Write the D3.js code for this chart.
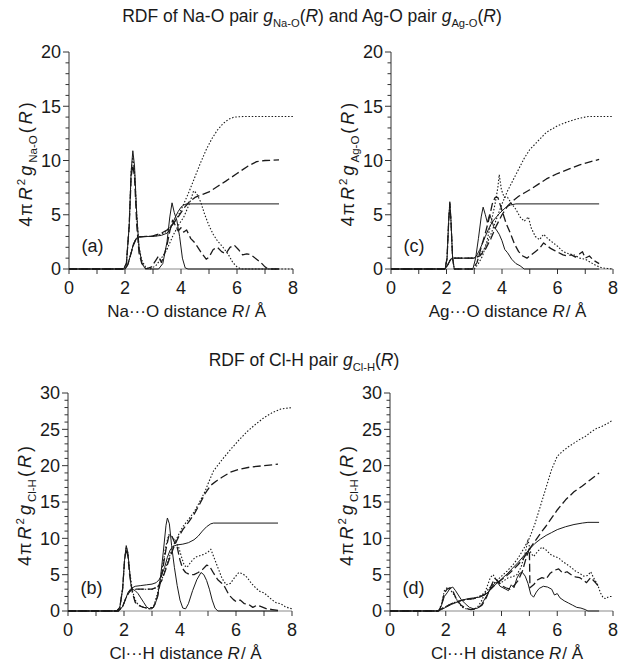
<!DOCTYPE html>
<html>
<head>
<meta charset="utf-8">
<script src="https://cdn.jsdelivr.net/npm/d3@7"></script>
<style>
  body { margin: 0; background: #fff; }
  text { font-family: "Liberation Sans", Arial, sans-serif; fill: #1a1a1a; }
</style>
</head>
<body>
<svg id="chart" width="619" height="662"></svg>
<script>
"use strict";

// ---- data (R in Angstrom, 4piR^2 g(R)) ----
var xTickValues = [0, 2, 4, 6, 8];

// (a) Na-O
var naRdfSolid = [[0,0],[1.95,0],[2.05,0.5],[2.15,4],[2.22,9],[2.28,10.9],[2.34,9.5],[2.42,5],[2.5,2],[2.6,0.6],[2.7,0.1],[2.8,0],[3.2,0],[3.35,0.5],[3.5,2.5],[3.6,4.8],[3.68,6.1],[3.76,5.2],[3.85,4.5],[3.95,3],[4.05,1],[4.15,0.1],[4.25,0],[7.5,0]];
var naRdfDash = [[0,0],[1.95,0],[2.05,0.5],[2.15,4],[2.22,8.5],[2.28,9.6],[2.34,8.5],[2.42,4],[2.5,1.5],[2.6,0.5],[2.75,0],[2.95,0.2],[3.1,0.8],[3.2,1.2],[3.3,0.6],[3.4,1.3],[3.5,2.2],[3.6,3.5],[3.7,4.5],[3.8,4],[3.9,3.5],[4.0,3.8],[4.1,3.4],[4.2,3.6],[4.35,2.8],[4.5,2.4],[4.7,1.6],[4.9,0.9],[5.0,1.1],[5.15,1.8],[5.3,2.0],[5.45,1.6],[5.6,1.4],[5.75,2.0],[5.9,2.2],[6.05,1.8],[6.2,1.3],[6.35,1.4],[6.5,1.3],[6.7,0.9],[6.85,0.6],[7.0,0.2],[7.1,0],[7.5,0]];
var naRdfDot = [[0,0],[1.95,0],[2.05,0.5],[2.15,4],[2.22,9],[2.28,10.3],[2.34,9],[2.42,5],[2.5,2],[2.6,0.8],[2.75,0.1],[2.9,0],[3.1,0.3],[3.3,1.0],[3.5,1.8],[3.7,3],[3.9,4],[4.1,4.8],[4.3,6],[4.45,7.2],[4.55,7],[4.7,6.2],[4.85,5],[5.0,4],[5.15,3.2],[5.3,2.6],[5.5,2],[5.7,1.3],[5.85,0.6],[6.0,0.2],[6.15,0],[8,0]];
var naCumSolid = [[0,0],[2.0,0],[2.1,0.4],[2.2,1.3],[2.3,2.3],[2.4,2.8],[2.5,2.95],[2.7,3.0],[3.0,3.0],[3.3,3.1],[3.5,3.3],[3.6,3.6],[3.7,4.2],[3.8,4.8],[3.9,5.3],[4.0,5.7],[4.1,5.9],[4.2,6],[7.5,6]];
var naCumDash = [[0,0],[2.0,0],[2.1,0.4],[2.2,1.3],[2.3,2.2],[2.4,2.8],[2.5,2.95],[2.8,3.0],[3.0,3.05],[3.3,3.3],[3.5,3.6],[3.7,4.1],[3.9,4.8],[4.1,5.6],[4.3,6.2],[4.5,6.6],[4.8,6.9],[5.0,7.1],[5.3,7.6],[5.6,8.1],[6.0,8.8],[6.4,9.5],[6.7,9.9],[7.0,10.0],[7.5,10.05]];
var naCumDot = [[0,0],[2.0,0],[2.1,0.4],[2.2,1.3],[2.3,2.3],[2.4,2.8],[2.5,3.0],[2.8,3.0],[3.1,3.05],[3.3,3.2],[3.5,3.5],[3.7,4.1],[3.9,4.9],[4.1,6.0],[4.3,7.2],[4.5,8.5],[4.7,9.8],[4.9,11.0],[5.1,12.0],[5.3,12.8],[5.5,13.4],[5.7,13.8],[5.9,14.0],[6.2,14.05],[8,14.05]];

// (c) Ag-O
var agRdfSolid = [[0,0],[1.95,0],[2.02,1],[2.08,4.5],[2.12,6.2],[2.16,4.5],[2.22,1],[2.28,0],[2.95,0],[3.05,1],[3.15,2.8],[3.25,4.8],[3.32,5.7],[3.4,5],[3.47,4.3],[3.55,5],[3.62,4.6],[3.7,3.9],[3.8,3.6],[3.9,3.2],[4.0,2.6],[4.1,1.8],[4.2,1.5],[4.35,0.9],[4.5,0.5],[4.65,0.3],[4.8,0],[7.5,0]];
var agRdfDash = [[0,0],[1.95,0],[2.02,1],[2.08,4.5],[2.12,6.0],[2.16,4.5],[2.22,1],[2.28,0],[2.95,0],[3.1,0.6],[3.25,2.0],[3.4,3.3],[3.55,4.8],[3.65,6.0],[3.75,6.6],[3.85,6.6],[3.95,5.8],[4.05,5],[4.15,4.2],[4.3,3.3],[4.45,2.3],[4.6,1.6],[4.75,1.2],[4.9,1.0],[5.05,1.3],[5.2,1.6],[5.35,1.9],[5.5,2.4],[5.6,2.2],[5.75,1.9],[5.9,1.7],[6.05,1.5],[6.2,1.3],[6.35,1.2],[6.5,1.3],[6.65,1.1],[6.8,1.4],[6.9,1.6],[7.0,1.0],[7.15,1.2],[7.3,0.8],[7.5,0.5]];
var agRdfDot = [[0,0],[1.95,0],[2.02,1],[2.08,4.5],[2.12,6.0],[2.16,4.5],[2.22,1],[2.28,0],[3.0,0],[3.15,0.5],[3.3,1.2],[3.45,2.5],[3.6,4.2],[3.75,6.0],[3.85,7.5],[3.9,8.7],[3.98,7.3],[4.08,6.6],[4.2,6.6],[4.35,6.0],[4.5,5.5],[4.65,4.8],[4.8,4.4],[4.95,4.8],[5.05,3.8],[5.2,3.0],[5.35,2.7],[5.5,3.2],[5.65,2.8],[5.8,2.5],[6.0,2.1],[6.2,1.6],[6.4,1.4],[6.6,1.3],[6.8,1.0],[7.0,0.9],[7.2,0.6],[7.4,0.3],[7.6,0.1],[7.8,0.05],[8.0,0]];
var agCumSolid = [[0,0],[1.95,0],[2.05,0.4],[2.15,0.9],[2.25,1.0],[3.0,1.0],[3.1,1.3],[3.2,1.8],[3.3,2.4],[3.4,3.0],[3.5,3.6],[3.6,4.1],[3.7,4.5],[3.8,4.8],[3.9,5.1],[4.0,5.35],[4.15,5.7],[4.3,5.9],[4.5,6.0],[7.5,6.0]];
var agCumDash = [[0,0],[1.95,0],[2.05,0.4],[2.15,0.9],[2.25,1.0],[3.0,1.0],[3.2,1.2],[3.4,1.8],[3.6,2.8],[3.8,4.0],[4.0,5.0],[4.2,5.8],[4.4,6.3],[4.6,6.7],[4.8,7.0],[5.0,7.3],[5.3,7.8],[5.6,8.3],[6.0,8.8],[6.4,9.2],[6.8,9.6],[7.2,9.9],[7.5,10.1]];
var agCumDot = [[0,0],[1.95,0],[2.05,0.4],[2.15,0.9],[2.25,1.0],[3.0,1.0],[3.2,1.3],[3.4,2.0],[3.6,3.2],[3.8,4.6],[4.0,6.0],[4.2,7.2],[4.4,8.2],[4.6,9.2],[4.8,10.2],[5.0,11.0],[5.3,11.8],[5.6,12.6],[6.0,13.2],[6.4,13.6],[6.8,13.9],[7.1,14.05],[8.0,14.05]];

// (b) Cl-H, Na system
var clbRdfSolid = [[0,0],[1.75,0],[1.85,0.5],[1.95,3],[2.02,7],[2.08,9.0],[2.14,8],[2.2,5.5],[2.25,3.5],[2.3,3.0],[2.4,2.8],[2.5,2.4],[2.6,1.8],[2.7,1.2],[2.8,0.6],[2.9,0.3],[3.0,0.3],[3.1,0.8],[3.2,2.0],[3.3,4.5],[3.4,8],[3.5,11.8],[3.55,12.8],[3.62,12],[3.7,9],[3.8,6],[3.9,3.5],[4.0,1.5],[4.1,0.4],[4.2,0.3],[4.3,1.0],[4.45,2.8],[4.6,4.3],[4.75,5.3],[4.85,5],[4.95,4.2],[5.05,3],[5.15,1.5],[5.25,0.4],[5.35,0],[7.5,0]];
var clbRdfDash = [[0,0],[1.75,0],[1.85,0.5],[1.95,3],[2.02,7],[2.08,8.6],[2.14,7.5],[2.2,5],[2.3,2.5],[2.4,1.2],[2.5,0.8],[2.7,0.5],[2.9,0.4],[3.05,0.5],[3.2,2],[3.35,5],[3.5,8.5],[3.6,10.3],[3.7,10.4],[3.8,9.5],[3.9,8.8],[4.0,7],[4.1,5.8],[4.2,5.3],[4.35,5],[4.5,5],[4.65,5.3],[4.8,5.7],[4.95,6.3],[5.05,6.2],[5.2,5.2],[5.35,4.3],[5.5,3.8],[5.6,3.3],[5.75,2.2],[5.9,1.6],[6.0,1.3],[6.15,1.5],[6.3,1.0],[6.45,0.9],[6.6,0.5],[6.75,0.8],[6.9,0.6],[7.1,0.3],[7.3,0.2],[7.5,0.1]];
var clbRdfDot = [[0,0],[1.75,0],[1.85,0.5],[1.95,3],[2.02,7],[2.08,8.8],[2.14,8],[2.2,5.5],[2.3,2.8],[2.4,1.5],[2.5,0.9],[2.7,0.5],[2.9,0.3],[3.05,0.5],[3.2,2.5],[3.35,5.5],[3.5,9],[3.6,10.5],[3.7,10.3],[3.85,9.5],[3.95,8.8],[4.05,7.5],[4.15,6.3],[4.25,6.0],[4.4,6.8],[4.55,7.4],[4.7,7.6],[4.85,7.8],[5.0,8.1],[5.1,8.5],[5.2,7.5],[5.35,6.0],[5.5,4.5],[5.65,3.6],[5.8,3.8],[5.95,4.6],[6.1,5.3],[6.25,5.1],[6.4,4.6],[6.55,3.8],[6.7,3.2],[6.85,2.7],[7.0,2.5],[7.15,2.0],[7.3,1.5],[7.45,1.1],[7.6,1.0],[7.75,0.6],[7.9,0.4],[8.0,0.3]];
var clbCumSolid = [[0,0],[1.8,0],[1.95,0.6],[2.05,1.6],[2.15,2.6],[2.25,3.1],[2.4,3.4],[2.6,3.5],[2.8,3.6],[3.0,3.7],[3.15,3.9],[3.25,4.3],[3.35,5.0],[3.45,6.0],[3.55,7.4],[3.65,8.4],[3.75,8.9],[3.9,9.1],[4.1,9.2],[4.3,9.4],[4.5,9.8],[4.65,10.3],[4.8,11.0],[4.95,11.6],[5.1,12.0],[5.2,12.1],[7.5,12.1]];
var clbCumDash = [[0,0],[1.8,0],[1.95,0.6],[2.05,1.6],[2.15,2.4],[2.25,2.9],[2.4,3.0],[3.0,3.0],[3.2,3.3],[3.35,4.2],[3.5,5.8],[3.65,7.5],[3.8,9.0],[3.95,10.2],[4.1,11.2],[4.3,12.2],[4.5,13.3],[4.7,14.7],[4.9,16.2],[5.1,17.3],[5.3,17.9],[5.5,18.4],[5.8,19.1],[6.1,19.5],[6.5,19.8],[7.0,20.0],[7.5,20.2]];
var clbCumDot = [[0,0],[1.8,0],[1.95,0.6],[2.05,1.6],[2.15,2.4],[2.25,2.9],[2.4,3.0],[3.0,3.0],[3.2,3.3],[3.35,4.3],[3.5,6.0],[3.65,7.8],[3.8,9.3],[3.95,10.5],[4.1,11.6],[4.3,12.6],[4.5,13.6],[4.7,15.0],[4.9,16.5],[5.0,17.5],[5.2,19.3],[5.5,20.8],[5.8,22.2],[6.1,23.5],[6.4,24.7],[6.7,25.7],[7.0,26.6],[7.3,27.3],[7.6,27.8],[8.0,28.0]];

// (d) Cl-H, Ag system
var cldRdfSolid = [[0,0],[1.75,0],[1.85,0.8],[1.95,2.0],[2.05,2.5],[2.15,3.1],[2.25,3.3],[2.35,2.8],[2.45,2.2],[2.55,1.6],[2.7,1.0],[2.85,0.5],[3.0,0.3],[3.15,0.4],[3.3,1.0],[3.45,2.0],[3.6,3.0],[3.75,3.8],[3.85,4.0],[3.95,3.4],[4.05,3.2],[4.15,3.0],[4.25,2.8],[4.35,3.6],[4.45,3.2],[4.55,4.5],[4.65,5.2],[4.75,5.3],[4.85,4.8],[4.95,3.8],[5.05,2.3],[5.15,1.9],[5.25,2.6],[5.35,3.1],[5.5,3.4],[5.65,3.3],[5.8,3.0],[5.9,2.2],[6.0,2.4],[6.1,1.8],[6.25,1.4],[6.4,1.1],[6.55,0.8],[6.7,0.5],[6.85,0.4],[7.0,0.2],[7.1,0],[7.5,0]];
var cldRdfDash = [[0,0],[1.75,0],[1.85,0.8],[1.95,2.5],[2.05,3.0],[2.15,3.2],[2.25,2.8],[2.4,1.5],[2.55,0.8],[2.7,0.4],[2.9,0.2],[3.1,0.3],[3.3,0.8],[3.45,1.8],[3.6,3.2],[3.75,4.5],[3.85,4.2],[4.0,3.5],[4.15,3.2],[4.3,3.0],[4.45,3.5],[4.6,4.2],[4.75,5.5],[4.9,7.5],[5.0,8.6],[5.02,3.2],[5.15,3.6],[5.3,4.3],[5.45,4.6],[5.6,4.4],[5.75,5.2],[5.9,5.6],[6.05,5.8],[6.2,5.2],[6.35,5.4],[6.5,5.0],[6.65,4.7],[6.8,4.6],[6.95,4.2],[7.05,3.9],[7.2,4.6],[7.35,4.0],[7.5,3.3]];
var cldRdfDot = [[0,0],[1.75,0],[1.85,1],[1.95,2.8],[2.05,3.2],[2.15,3.0],[2.3,2.2],[2.45,1.2],[2.6,0.5],[2.8,0.2],[3.0,0.2],[3.15,0.6],[3.3,1.5],[3.45,3.0],[3.6,4.6],[3.7,5.0],[3.8,4.3],[3.95,3.8],[4.1,4.2],[4.25,4.6],[4.4,4.7],[4.55,5.0],[4.7,6.0],[4.85,8.0],[4.95,9.8],[5.05,8.0],[5.15,7.5],[5.3,8.2],[5.45,8.8],[5.6,8.4],[5.75,7.8],[5.9,7.5],[6.05,7.3],[6.2,6.8],[6.35,6.4],[6.5,6.0],[6.65,5.5],[6.8,5.2],[6.95,4.8],[7.1,4.9],[7.2,5.4],[7.3,4.6],[7.45,3.6],[7.55,2.5],[7.65,1.8],[7.75,1.7],[7.85,2.0],[8.0,2.0]];
var cldCumSolid = [[0,0],[1.7,0],[1.85,0.2],[2.0,0.5],[2.2,0.9],[2.4,1.2],[2.6,1.5],[2.8,1.7],[3.0,1.8],[3.2,1.9],[3.4,2.2],[3.6,2.9],[3.8,3.7],[4.0,4.4],[4.2,5.1],[4.4,5.9],[4.6,6.7],[4.8,7.6],[5.0,8.5],[5.2,9.3],[5.4,9.9],[5.6,10.4],[5.8,10.8],[6.0,11.2],[6.3,11.6],[6.6,11.9],[6.9,12.1],[7.1,12.2],[7.5,12.2]];
var cldCumDash = [[0,0],[1.7,0],[1.85,0.3],[2.0,0.6],[2.2,1.0],[2.4,1.3],[2.6,1.5],[2.8,1.6],[3.0,1.7],[3.2,1.9],[3.4,2.3],[3.6,3.0],[3.8,3.7],[4.0,4.3],[4.2,4.9],[4.4,5.6],[4.6,6.4],[4.8,7.3],[5.0,8.5],[5.2,9.6],[5.4,10.7],[5.6,11.7],[5.8,12.8],[6.0,13.9],[6.3,15.3],[6.6,16.4],[6.9,17.2],[7.2,18.1],[7.5,19.0]];
var cldCumDot = [[0,0],[1.7,0],[1.85,0.3],[2.0,0.6],[2.2,1.0],[2.4,1.3],[2.6,1.5],[2.8,1.6],[3.0,1.7],[3.2,2.0],[3.4,2.5],[3.6,3.3],[3.8,4.1],[4.0,4.8],[4.2,5.5],[4.4,6.3],[4.6,7.3],[4.8,8.6],[5.0,10.0],[5.2,12.0],[5.4,14.5],[5.6,17.0],[5.8,19.5],[6.0,21.3],[6.2,22.0],[6.4,22.6],[6.6,23.1],[6.8,23.6],[7.0,24.0],[7.2,24.6],[7.4,25.1],[7.6,25.4],[7.8,25.8],[8.0,26.3]];

var lineStyles = {
  solid: { dash: null, width: 1 },
  dash:  { dash: "8,3.5", width: 1.3 },
  dot:   { dash: "1.5,1.8", width: 1.1 }
};

var panels = [
  { label: "(a)", left: 69, right: 293, top: 52, bottom: 269, yMax: 20, pair: "Na-O", xName: "Na\u00B7\u00B7\u00B7O",
    series: [[naRdfDot,"dot"],[naRdfDash,"dash"],[naRdfSolid,"solid"],[naCumDot,"dot"],[naCumDash,"dash"],[naCumSolid,"solid"]] },
  { label: "(c)", left: 391, right: 613, top: 52, bottom: 269, yMax: 20, pair: "Ag-O", xName: "Ag\u00B7\u00B7\u00B7O",
    series: [[agRdfDot,"dot"],[agRdfDash,"dash"],[agRdfSolid,"solid"],[agCumDot,"dot"],[agCumDash,"dash"],[agCumSolid,"solid"]] },
  { label: "(b)", left: 68, right: 292, top: 393, bottom: 611, yMax: 30, pair: "Cl-H", xName: "Cl\u00B7\u00B7\u00B7H",
    series: [[clbRdfDot,"dot"],[clbRdfDash,"dash"],[clbRdfSolid,"solid"],[clbCumDot,"dot"],[clbCumDash,"dash"],[clbCumSolid,"solid"]] },
  { label: "(d)", left: 390, right: 613, top: 393, bottom: 611, yMax: 30, pair: "Cl-H", xName: "Cl\u00B7\u00B7\u00B7H",
    series: [[cldRdfDot,"dot"],[cldRdfDash,"dash"],[cldRdfSolid,"solid"],[cldCumDot,"dot"],[cldCumDash,"dash"],[cldCumSolid,"solid"]] }
];

var svg = d3.select("#chart");

// text made of pieces: {t, i (italic), sub, sup, dx}
function richText(sel, parts, size) {
  var shift = 0;
  parts.forEach(function (p) {
    var ts = sel.append("tspan").text(p.t);
    var want = p.sub ? size * 0.28 : (p.sup ? -size * 0.38 : 0);
    var dy = want - shift;
    if (dy !== 0) ts.attr("dy", dy);
    shift = want;
    if (p.dx) ts.attr("dx", p.dx);
    if (p.i) ts.attr("font-style", "italic");
    if (p.sub || p.sup) ts.attr("font-size", size * 0.64);
  });
}

function titleParts(pair) {
  return [{ t: "g", i: 1 }, { t: pair, sub: 1 }, { t: "(" }, { t: "R", i: 1 }, { t: ")" }];
}

// figure titles
var t1 = svg.append("text").attr("x", 312).attr("y", 22).attr("text-anchor", "middle").attr("font-size", 17.5);
richText(t1, [{ t: "RDF of Na-O pair " }].concat(titleParts("Na-O"), [{ t: " and Ag-O pair " }], titleParts("Ag-O")), 17.5);

var t2 = svg.append("text").attr("x", 304).attr("y", 366).attr("text-anchor", "middle").attr("font-size", 17.5);
richText(t2, [{ t: "RDF of Cl-H pair " }].concat(titleParts("Cl-H")), 17.5);

var line = d3.line().curve(d3.curveLinear);

panels.forEach(function (p) {
  var x = d3.scaleLinear().domain([0, 8]).range([p.left, p.right]);
  var y = d3.scaleLinear().domain([0, p.yMax]).range([p.bottom, p.top]);
  var g = svg.append("g");

  // x axis (gray baseline, ticks downward)
  g.append("line").attr("x1", x(0)).attr("x2", x(8)).attr("y1", y(0)).attr("y2", y(0))
    .attr("stroke", "#8a8a8a").attr("stroke-width", 1.2);
  d3.range(0, 9).forEach(function (v) {
    g.append("line").attr("x1", x(v)).attr("x2", x(v)).attr("y1", y(0)).attr("y2", y(0) + 5)
      .attr("stroke", "#333").attr("stroke-width", 1);
  });
  xTickValues.forEach(function (v) {
    g.append("text").attr("x", x(v)).attr("y", y(0) + 25).attr("text-anchor", "middle")
      .attr("font-size", 18).text(v);
  });

  // y axis (ticks to the left, minor every 1)
  g.append("line").attr("x1", x(0)).attr("x2", x(0)).attr("y1", y(0)).attr("y2", y(p.yMax))
    .attr("stroke", "#333").attr("stroke-width", 1);
  d3.range(0, p.yMax + 1).forEach(function (v) {
    var len = v % 5 === 0 ? 6 : 3.5;
    g.append("line").attr("x1", x(0) - len).attr("x2", x(0)).attr("y1", y(v)).attr("y2", y(v))
      .attr("stroke", "#333").attr("stroke-width", 1);
  });
  y.ticks(p.yMax / 5).forEach(function (v) {
    g.append("text").attr("x", x(0) - 8).attr("y", y(v)).attr("dy", "0.36em")
      .attr("text-anchor", "end").attr("font-size", 18).text(v);
  });

  // data lines
  p.series.forEach(function (s) {
    var st = lineStyles[s[1]];
    var path = g.append("path")
      .attr("d", line.x(function (d) { return x(d[0]); }).y(function (d) { return y(d[1]); })(s[0]))
      .attr("fill", "none").attr("stroke", "#1a1a1a")
      .attr("stroke-width", st.width).attr("stroke-linejoin", "round");
    if (st.dash) path.attr("stroke-dasharray", st.dash);
  });

  // panel label
  g.append("text").attr("x", x(0.45)).attr("y", y(0) - 17).attr("font-size", 18).text(p.label);

  // axis titles
  var xt = g.append("text").attr("x", x(4.2)).attr("y", y(0) + 48)
    .attr("text-anchor", "middle").attr("font-size", 17);
  richText(xt, [{ t: p.xName + " distance " }, { t: "R", i: 1 }, { t: "/ \u00C5", dx: 1 }], 17);

  var cy = (p.top + p.bottom) / 2 + 4;
  var yt = g.append("text").attr("transform", "translate(" + (p.left - 37) + "," + cy + ") rotate(-90)")
    .attr("text-anchor", "middle").attr("font-size", 18);
  richText(yt, [{ t: "4" }, { t: "\u03C0", dx: 1 }, { t: "R", i: 1, dx: 3 }, { t: "2", sup: 1, dx: 2 },
    { t: "g", i: 1, dx: 3 }, { t: p.pair, sub: 1, dx: 3 }, { t: "(", dx: 2 }, { t: "R", i: 1, dx: 3 }, { t: ")", dx: 3 }], 18);
});
</script>
</body>
</html>
